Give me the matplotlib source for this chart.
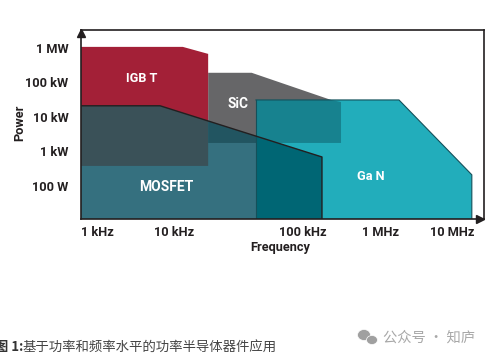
import numpy as np
import matplotlib
matplotlib.use("Agg")
import matplotlib.pyplot as plt
from matplotlib.patches import Polygon, Ellipse

W, H = 491, 359

# device areas: frequency (Hz) and power (W)
igbt_f = [620, 11700, 18400, 18400, 620]
igbt_p = [1.07e6, 1.07e6, 6.7e5, 380, 380]
mosfet_f = [620, 6600, 175000, 175000, 620]
mosfet_p = [2.1e4, 2.1e4, 690, 11, 11]
sic_f = [18400, 40000, 229000, 307000, 307000, 18400]
sic_p = [1.9e5, 1.9e5, 3.1e4, 2.7e4, 1760, 1760]
gan_f = [43200, 1.79e6, 1.9e7, 1.9e7, 43200]
gan_p = [3.1e4, 3.1e4, 210, 11, 11]

x_ticks = [1e3, 1e4, 1e5, 1e6, 1e7]
x_labels = ["1 kHz", "10 kHz", "100 kHz", "1 MHz", "10 MHz"]
y_ticks = [100, 1e3, 1e4, 1e5, 1e6]
y_labels = ["100 W", "1 kW", "10 kW", "100 kW", "1 MW"]

# the frequency axis of the original is not evenly spaced per decade
dec = [2, 3, 4, 5, 6, 7, 8]
pos = [20, 97, 174, 303, 381, 452, 523]


def fwd(f):
    return np.interp(np.log10(np.maximum(f, 1e-9)), dec, pos)


def inv(p):
    return 10 ** np.interp(p, pos, dec)


plt.rcParams["font.family"] = ["Roboto", "DejaVu Sans"]
dark = "#231f20"

fig = plt.figure(figsize=(W / 100, H / 100), dpi=100)
ax = fig.add_axes([81 / W, 1 - 219 / H, (484 - 81) / W, (219 - 30) / H])
ax.set_xscale("function", functions=(fwd, inv))
ax.set_yscale("log")
ax.set_xlim(620, 2.82e7)
ax.set_ylim(11, 3.3e6)

ax.set_xticks(x_ticks)
ax.set_xticklabels(x_labels, fontsize=9.2, fontweight="bold", color=dark)
ax.set_yticks(y_ticks)
ax.set_yticklabels(y_labels, fontsize=9.2, fontweight="bold", color=dark)
ax.minorticks_off()
ax.tick_params(axis="both", length=0)
ax.tick_params(axis="x", pad=5)
ax.tick_params(axis="y", pad=9)
for s in ax.spines.values():
    s.set_color(dark)
    s.set_linewidth(1.2)


def area(f, p, color, z, clip=None):
    poly = Polygon(np.column_stack([f, p]), closed=True, fc=color, ec="none", zorder=z)
    ax.add_patch(poly)
    if clip is not None:
        poly.set_clip_path(clip)
    return poly


sic = area(sic_f, sic_p, "#666668", 1)
igbt = area(igbt_f, igbt_p, "#a32037", 1.1)
gan = area(gan_f, gan_p, "#22adbb", 1.2)
mosfet = area(mosfet_f, mosfet_p, "#35707f", 1.3)

# overlaps get their own colour, clipped to the second shape
area(igbt_f, igbt_p, "#3a5158", 1.4, mosfet)
area(sic_f, sic_p, "#225561", 1.5, mosfet)
area(sic_f, sic_p, "#17828f", 1.6, gan)
area(gan_f, gan_p, "#006674", 1.7, mosfet)

ax.plot(mosfet_f[:3] + mosfet_f[3:4], mosfet_p[:3] + mosfet_p[3:4], color=dark, lw=1, zorder=2)
ax.plot(gan_f[:3] + gan_f[3:4], gan_p[:3] + gan_p[3:4], color="#14505a", lw=0.8, zorder=1.9)
ax.plot([gan_f[0], gan_f[0]], [gan_p[0], gan_p[-1]], color="#14505a", lw=0.8, zorder=1.9)

# axis arrows
ax.plot([0], [0.985], marker="^", ms=6, color=dark, transform=ax.transAxes, clip_on=False, zorder=5)
ax.plot([0.99], [0], marker=">", ms=6, color=dark, transform=ax.transAxes, clip_on=False, zorder=5)


def put(x, y, s, size=9.2, **kw):
    fig.text(x / W, 1 - y / H, s, ha="center", va="center", fontsize=size, fontweight="bold", **kw)


put(142, 78, "IGB T", color="white", zorder=6)
put(238, 104, "SiC", size=9.8, color="white", zorder=6)
put(166, 187, "MOSFET", size=10, color="white", zorder=6)
put(371, 177, "Ga N", color="white", zorder=6)
put(20, 123, "Power", color=dark, rotation=90)
put(280, 248, "Frequency", color=dark)

# caption, cut off at the left edge as in the picture
cjk = ["Noto Sans CJK SC", "DejaVu Sans"]
fig.text(-5 / W, 1 - 347 / H, "图 1:", fontsize=9.5, fontweight="bold", color="#333333", family=cjk, va="center")
fig.text(23 / W, 1 - 347 / H, "基于功率和频率水平的功率半导体器件应用", fontsize=9.65, color="#444444", family=cjk, va="center")
fig.text(383 / W, 1 - 338 / H, "公众号 · 知庐", fontsize=10.3, color="#a8a8a8", family=cjk, va="center")

# watermark icon
for cx, cy, w, h in [(364, 335, 13, 11), (372, 340, 11, 9)]:
    fig.add_artist(Ellipse((cx / W, 1 - cy / H), w / W, h / H, transform=fig.transFigure,
                           fc="#a0a0a0", ec="white", lw=0.5))

fig.savefig("out.png", dpi=100)
